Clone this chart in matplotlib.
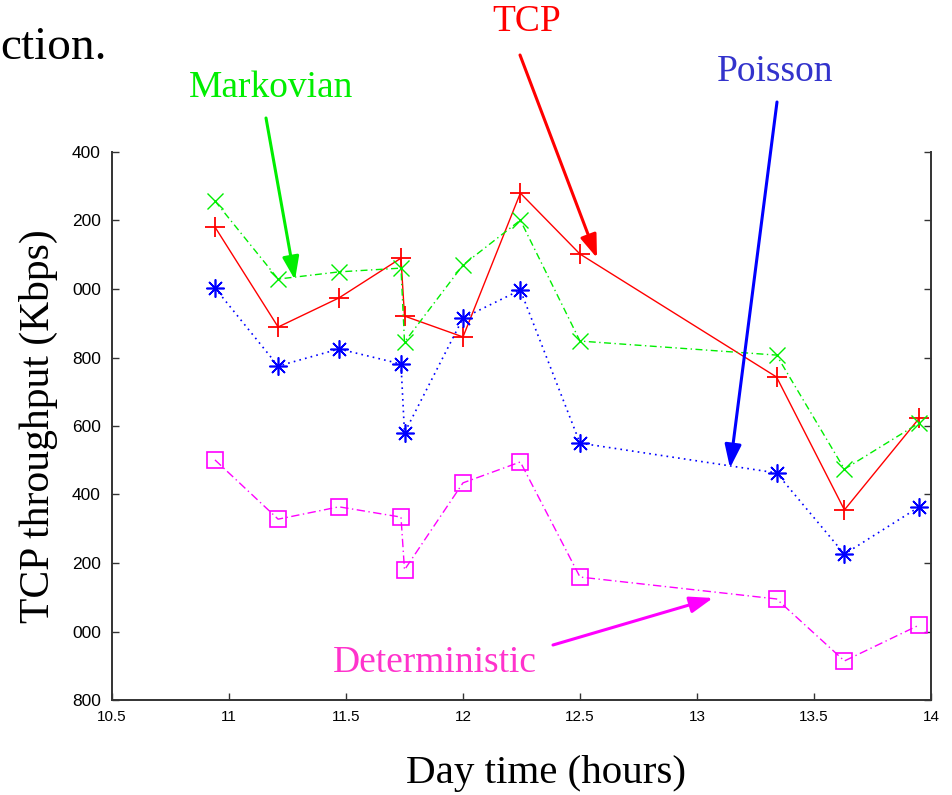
import matplotlib
matplotlib.use("Agg")
import matplotlib.pyplot as plt

# ---- data ----
hours = [10.94, 11.21, 11.47, 11.735, 11.75, 12.0, 12.245, 12.5, 13.34, 13.63, 13.95]
tcp = [2181, 1889, 1974, 2090, 1921, 1860, 2280, 2102, 1743, 1355, 1623]
markovian = [2257, 2029, 2050, 2061, 1845, 2070, 2201, 1848, 1807, 1474, 1609]
poisson = [2003, 1775, 1825, 1781, 1580, 1915, 1997, 1550, 1463, 1226, 1364]
deterministic = [1501, 1328, 1364, 1334, 1180, 1434, 1495, 1159, 1095, 914, 1019]

xticks = [10.5, 11, 11.5, 12, 12.5, 13, 13.5, 14]
xtick_labels = ["10.5", "11", "11.5", "12", "12.5", "13", "13.5", "14"]
yticks = [800, 1000, 1200, 1400, 1600, 1800, 2000, 2200, 2400]
ytick_labels = ["800", "000", "200", "400", "600", "800", "000", "200", "400"]

W, H = 953, 795
fig = plt.figure(figsize=(W / 100, H / 100), dpi=100)
ax = fig.add_axes([112 / W, 1 - 700 / H, (931 - 112) / W, (700 - 152) / H])

serif = "Liberation Serif"
sans = "Liberation Sans"

ax.plot(hours, tcp, color="#ff0000", lw=1.0, ls="-", marker="+", ms=14, mew=1.3)
ax.plot(hours, markovian, color="#00ee00", lw=1.0, ls=(0, (5, 2.5, 1, 2.5)), marker="x", ms=12, mew=1.0)
ax.plot(hours, poisson, color="#0000ff", lw=1.2, ls=(0, (1, 2.5)), marker=(8, 2, 0), ms=13, mew=1.2)
ax.plot(hours, deterministic, color="#ff00ff", lw=1.0, ls=(0, (6, 2.5, 1, 2.5)), marker="s", ms=11, mew=1.2,
        mfc="none")

ax.set_xlim(10.5, 14)
ax.set_ylim(800, 2400)
ax.set_xticks(xticks)
ax.set_xticklabels(xtick_labels, fontfamily=sans, fontsize=11)
ax.set_yticks(yticks)
ax.set_yticklabels(ytick_labels, fontfamily=sans, fontsize=12.5)
ax.tick_params(direction="in", length=5, width=1, color="#333333", pad=7)
ax.tick_params(axis="y", which="both", right=True, pad=8)
ax.spines["top"].set_visible(False)
for s in ["left", "bottom", "right"]:
    ax.spines[s].set_color("#333333")
    ax.spines[s].set_linewidth(1.4)

fig.text(546 / W, 1 - 773 / H, "Day time (hours)", fontfamily=serif, fontsize=29.5, ha="center", va="center")
fig.text(38 / W, 1 - 426 / H, "TCP throughput (Kbps)", fontfamily=serif, fontsize=30, ha="center", va="center",
         rotation=90)
fig.text(0 / W, 1 - 48 / H, "ction.", fontfamily=serif, fontsize=34, ha="left", va="center")

def label(txt, xy_text, color, start, end, fc=None):
    fig.text(xy_text[0] / W, 1 - xy_text[1] / H, txt, color=color, fontfamily=serif, fontsize=27,
             ha="center", va="center")
    ax.annotate("", xy=(end[0], H - end[1]), xycoords="figure pixels",
                xytext=(start[0], H - start[1]), textcoords="figure pixels",
                arrowprops=dict(arrowstyle="-|>,head_length=1.4,head_width=0.5", color=fc or color, lw=2.2,
                                shrinkA=0, shrinkB=0),
                annotation_clip=False)

label("Markovian", (271, 88), "#00ee00", (266, 118), (295, 280))
label("TCP", (527, 22), "#ff0000", (520, 55), (597, 258))
label("Poisson", (775, 72), "#3333cc", (777, 102), (730, 468), fc="#0000ff")
label("Deterministic", (435, 663), "#ff33cc", (553, 645), (713, 598), fc="#ff00ff")

fig.savefig("out.png", dpi=100)
